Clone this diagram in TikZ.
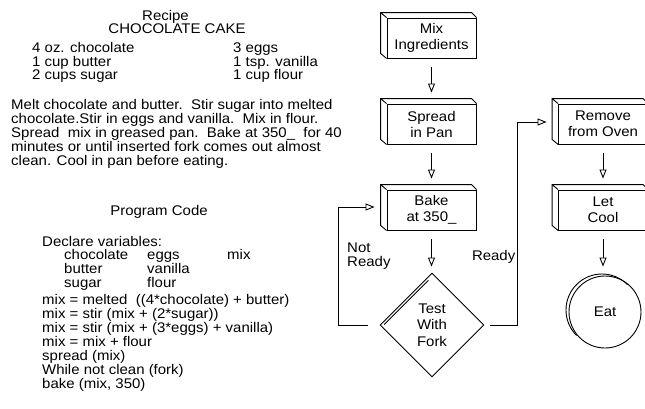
\documentclass[tikz,border=0pt]{standalone}
\usepackage{fontspec}
\setmainfont{Liberation Sans}[FakeStretch=1.07]
\usetikzlibrary{arrows.meta,shapes.geometric,calc}
\begin{document}
\begin{tikzpicture}[x=1pt,y=-1pt,
  font=\fontsize{14}{14.3}\selectfont,
  txt/.style={inner sep=0pt, anchor=base west},
  ttl/.style={inner sep=0pt, anchor=base},
  stepbox/.style={draw, line width=0.9pt, minimum width=89pt, minimum height=40pt,
    inner sep=1pt, align=center, font=\fontsize{14}{16}\selectfont},
  arr/.style={line width=0.9pt, -{Triangle[open, length=9pt, width=7pt]}},
  edge3d/.style={line width=0.9pt, line join=round}]
\useasboundingbox (0,0) rectangle (645,408);
\clip (0,0) rectangle (645,408);

% ---------- recipe text ----------
\node[ttl] (t1) at (165.5,20) {Recipe};
\node[ttl] (t2) at (177,33.5) {CHOCOLATE CAKE};
\node[txt] (i1) at (32,52) {4 oz. chocolate};
\node[txt] (i2) at (32,66) {1 cup butter};
\node[txt] (i3) at (32,79.5) {2 cups sugar};
\node[txt] (i4) at (233,52) {3 eggs};
\node[txt] (i5) at (233,66) {1 tsp. vanilla};
\node[txt] (i6) at (233,79.5) {1 cup flour};
\node[txt] (p1) at (11,109) {Melt chocolate and butter.\ \ Stir sugar into melted};
\node[txt] (p2) at (11,123) {chocolate.Stir in eggs and vanilla.\ \ Mix in flour.};
\node[txt] (p3) at (11,137) {Spread\ \ mix in greased pan.\ \ Bake at 350\_\ \ for 40};
\node[txt] (p4) at (11,151) {minutes or until inserted fork comes out almost};
\node[txt] (p5) at (11,165) {clean. Cool in pan before eating.};

% ---------- program code ----------
\node[ttl] (pc) at (159,215) {Program Code};
\node[txt] (d0) at (42,246) {Declare variables:};
\node[txt] (v1) at (64,259.5) {chocolate};
\node[txt] (v2) at (147,259.5) {eggs};
\node[txt] (v3) at (227,259.5) {mix};
\node[txt] (v4) at (64,273.5) {butter};
\node[txt] (v5) at (147,273.5) {vanilla};
\node[txt] (v6) at (64,287.5) {sugar};
\node[txt] (v7) at (147,287.5) {flour};
\node[txt] (c1) at (42,304) {mix = melted\ \ ((4*chocolate) + butter)};
\node[txt] (c2) at (42,318) {mix = stir (mix + (2*sugar))};
\node[txt] (c3) at (42,332) {mix = stir (mix + (3*eggs) + vanilla)};
\node[txt] (c4) at (42,346) {mix = mix + flour};
\node[txt] (c5) at (42,360) {spread (mix)};
\node[txt] (c6) at (42,374) {While not clean (fork)};
\node[txt] (c7) at (42,388) {bake (mix, 350)};

% ---------- flowchart ----------
\node[stepbox] (mix) at (431.5,38) {Mix\\Ingredients};
\node[stepbox] (spread) at (431.5,124) {Spread\\in Pan};
\node[stepbox] (bake) at (431.5,210) {Bake\\at 350\_};
\node[stepbox] (remove) at (603,124) {Remove\\from Oven};
\node[stepbox] (cool) at (603,210) {Let\\Cool};
\node[diamond, draw, line width=0.9pt, minimum size=104pt, inner sep=0pt, align=center,
  font=\fontsize{14}{16.5}\selectfont] (test) at (432,325) {Test\\With\\Fork};
\node[circle, draw, line width=0.9pt, minimum size=72pt, inner sep=0pt] (eat) at (605,312) {Eat};

% 3D faces of the boxes
\foreach \n in {mix,spread,bake,remove,cool}{
  \draw[edge3d] (\n.north west) -- ++(-6,-5) -- ($(\n.north east)+(-5,-5)$) -- (\n.north east);
  \draw[edge3d] ($(\n.north west)+(-6,-5)$) -- ($(\n.south west)+(-6,-5)$) -- (\n.south west);
}
% double edge of the diamond
\draw[line width=0.9pt] ($(test.north)+(-3.6,7.8)$) -- ($(test.west)+(4.6,-0.4)$);
% double edge of the circle
\coordinate (eatsh) at ($(eat.center)+(-3,-2)$);
\draw[line width=0.9pt] ([shift={(45:36pt)}]eatsh) arc[start angle=45, end angle=225, radius=36pt];

% connectors
\draw[arr] ($(mix.south)+(0,9)$) -- ($(spread.north)+(0,-11)$);
\draw[arr] ($(spread.south)+(0,9)$) -- ($(bake.north)+(0,-11)$);
\draw[arr] ($(bake.south)+(0,9)$) -- ($(bake.south |- test.north)+(0,-6)$);
\draw[arr] ($(remove.south)+(0,9)$) -- ($(cool.north)+(0,-11)$);
\draw[arr] ($(cool.south)+(0,9)$) -- ($(cool.south |- eat.north)+(0,-9)$);
\draw[arr] ($(test.west)+(-12,0)$) -- ++(-29,0) |- ($(bake.west)+(-12,-3)$);
\draw[arr] ($(test.east)+(6,0)$) -- ++(27,0) |- ($(remove.west)+(-11.5,-2)$);

% labels
\node[inner sep=0pt, anchor=west, align=left] (lnr) at (347,256) {Not\\Ready};
\node[inner sep=0pt, anchor=east] (lr) at (515.5,257) {Ready};
\end{tikzpicture}
\end{document}
